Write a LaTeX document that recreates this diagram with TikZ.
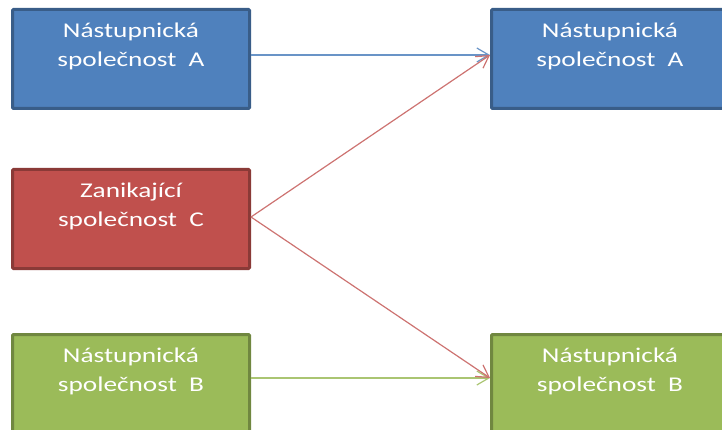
\documentclass[tikz,border=0pt]{standalone}
\usepackage{fontspec}
\setmainfont{Carlito}[FakeStretch=1.3]
\usetikzlibrary{arrows.meta}
\definecolor{modra}{HTML}{4F81BD}
\definecolor{cervena}{HTML}{C0504D}
\definecolor{zelena}{HTML}{9BBB59}
\begin{document}
\begin{tikzpicture}[x=1pt,y=-1pt,
  box/.style={draw=#1!72!black,fill=#1,line width=3pt,rounded corners=1pt,minimum width=237pt,minimum height=99pt,
    text=white,align=center,font=\fontsize{21}{28.5}\selectfont},
  arr/.style={draw=#1,line width=1.2pt,-{Straight Barb[length=12pt,width=14pt]}}]
\useasboundingbox(0,0) rectangle (722,430);
\clip(0,0) rectangle (722,430);
% leve sloupce
\node[box=modra](lA) at (131,59){Nástupnická\\společnost~~A\\\mbox{}};
\node[box=cervena](lC) at (131,219){Zanikající\\společnost~~C\\\mbox{}};
\node[box=zelena](lB) at (131,384){Nástupnická\\společnost~~B\\\mbox{}};
% prave sloupce
\node[box=modra](pA) at (610,59){Nástupnická\\společnost~~A\\\mbox{}};
\node[box=zelena](pB) at (610,384){Nástupnická\\společnost~~B\\\mbox{}};
% sipky
\draw[arr=modra!85]([yshift=4]lA.east)--([yshift=4]pA.west);
\draw[arr=zelena!85]([yshift=6]lB.east)--([yshift=6]pB.west);
\foreach \k/\y in {pA/4,pB/6}{\draw[arr=cervena!80]([yshift=2]lC.east)--([yshift=\y]\k.west);}
\end{tikzpicture}
\end{document}
